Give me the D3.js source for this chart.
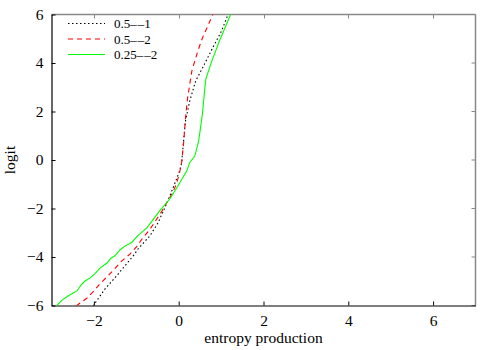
<!DOCTYPE html>
<html><head><meta charset="utf-8">
<script src="https://cdn.jsdelivr.net/npm/d3@7"></script>
<style>body{margin:0;background:#fff}svg{display:block}text{font-family:"Liberation Serif","DejaVu Serif",serif;fill:#000}</style>
</head><body><svg id="c" width="500" height="350"></svg>
<script>
const seriesNames = ["0.5--1", "0.5--2", "0.25--2"];
const xTicks = [-2, 0, 2, 4, 6];
const yTicks = [-6, -4, -2, 0, 2, 4, 6];
const black = [[-2.02,-6.02],[-1.74,-5.32],[-1.51,-4.87],[-1.27,-4.37],[-1.04,-3.88],[-0.96,-3.67],[-0.68,-3.13],[-0.49,-2.60],[-0.33,-1.98],[-0.21,-1.48],[-0.05,-0.78],[0.02,-0.45],[0.07,-0.12],[0.10,0.50],[0.16,1.61],[0.26,2.43],[0.40,3.26],[0.56,3.79],[0.80,4.62],[1.01,5.32],[1.15,5.94],[1.17,6.05]];
const red = [[-2.42,-6.02],[-2.16,-5.69],[-2.00,-5.40],[-1.86,-5.11],[-1.67,-4.78],[-1.51,-4.49],[-1.34,-4.16],[-1.15,-3.88],[-0.99,-3.57],[-0.85,-3.22],[-0.68,-2.86],[-0.40,-2.12],[-0.16,-1.40],[-0.05,-0.98],[0.03,-0.45],[0.07,-0.10],[0.12,0.78],[0.16,1.73],[0.21,2.56],[0.31,3.67],[0.45,4.49],[0.56,5.03],[0.80,5.98],[0.81,6.05]];
const green = [[-2.89,-6.02],[-2.75,-5.78],[-2.61,-5.61],[-2.40,-5.40],[-2.30,-5.15],[-2.21,-4.99],[-2.08,-4.85],[-1.98,-4.70],[-1.85,-4.45],[-1.69,-4.25],[-1.60,-4.05],[-1.51,-3.96],[-1.38,-3.70],[-1.27,-3.55],[-1.11,-3.40],[-0.95,-3.10],[-0.75,-2.80],[-0.60,-2.45],[-0.45,-2.10],[-0.21,-1.61],[-0.02,-1.07],[0.19,-0.45],[0.26,-0.10],[0.38,0.16],[0.47,0.78],[0.56,1.90],[0.61,2.85],[0.64,3.34],[0.78,4.08],[0.96,4.91],[1.22,5.98],[1.24,6.05]];
const seriesData = [black, red, green];
const colors = ["#000000", "#ff0000", "#00ff00"];
const dashes = ["1.5,2.5", "5,4", null];

const svg = d3.select("#c");
const L = 51.5, R = 475.5, T = 14.5, B = 305.5;
const x = d3.scaleLinear().domain([-3, 7]).range([L, R]);
const y = d3.scaleLinear().domain([-6, 6]).range([B, T]);
const FS = 15.5;

svg.append("defs").append("clipPath").attr("id","clip").append("rect")
  .attr("x", L).attr("y", T).attr("width", R-L).attr("height", B-T);

svg.append("line").attr("x1",L).attr("x2",R).attr("y1",T).attr("y2",T).attr("stroke","#888").attr("stroke-width",1.5);
svg.append("line").attr("x1",R).attr("x2",R).attr("y1",T).attr("y2",B).attr("stroke","#888").attr("stroke-width",1.5);
xTicks.forEach(t=>{
  svg.append("line").attr("x1",Math.round(x(t))+0.5).attr("x2",Math.round(x(t))+0.5).attr("y1",T).attr("y2",T+4).attr("stroke","#888");
});
yTicks.forEach(t=>{
  svg.append("line").attr("x1",R-4).attr("x2",R).attr("y1",y(t)).attr("y2",y(t)).attr("stroke","#888");
});

const fmt = d=>d<0?"\u2212"+(-d):d;
const gx = svg.append("g").attr("transform",`translate(0,${B})`)
  .call(d3.axisBottom(x).tickValues(xTicks).tickSizeInner(-4).tickSizeOuter(0).tickPadding(9).tickFormat(fmt));
gx.select(".domain").attr("stroke","#000").attr("stroke-width",1.2);
gx.selectAll("text").attr("font-size",FS).attr("font-family","Liberation Serif, serif");
const gy = svg.append("g").attr("transform",`translate(${L},0)`)
  .call(d3.axisLeft(y).tickValues(yTicks).tickSizeInner(-4).tickSizeOuter(0).tickPadding(8).tickFormat(fmt));
gy.select(".domain").attr("stroke","#000").attr("stroke-width",1.2);
gy.selectAll("text").attr("font-size",FS).attr("font-family","Liberation Serif, serif");

const line = d3.line().x(d=>x(d[0])).y(d=>y(d[1])).curve(d3.curveLinear);
const g = svg.append("g").attr("clip-path","url(#clip)");
seriesData.forEach((s,i)=>{
  g.append("path").attr("d", line(s)).attr("fill","none").attr("stroke",colors[i])
   .attr("stroke-width",1.1).attr("stroke-dasharray",dashes[i]);
});

const lg = svg.append("g");
const ly = [23.5, 39, 54.5];
seriesNames.forEach((n,i)=>{
  const yy = ly[i];
  lg.append("line").attr("x1",68).attr("x2",105).attr("y1",yy).attr("y2",yy)
    .attr("stroke",colors[i]).attr("stroke-width",1.2).attr("stroke-dasharray",dashes[i]);
  lg.append("text").attr("x",114).attr("y",yy+4.5).attr("font-size",13)
    .text(n.replace("--","\u2013\u200A\u2013"));
});

svg.append("text").attr("x",(L+R)/2).attr("y",343).attr("text-anchor","middle").attr("font-size",FS).text("entropy production");
svg.append("text").attr("transform",`translate(15,${(T+B)/2}) rotate(-90)`).attr("text-anchor","middle").attr("font-size",FS).text("logit");
</script></body></html>
